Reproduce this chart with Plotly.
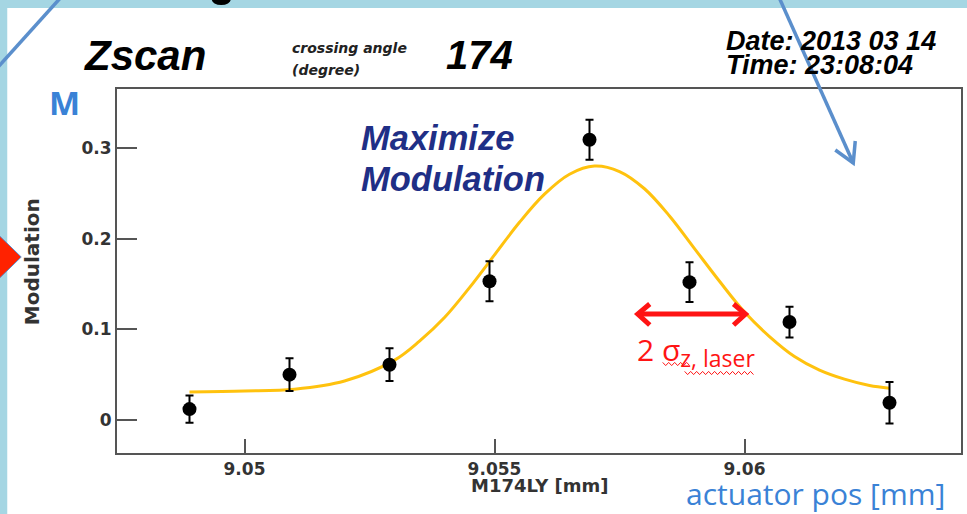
import plotly.graph_objects as go

# ---- data ----
x_pos = [9.0489, 9.0509, 9.0529, 9.0549, 9.0569, 9.0589, 9.0609, 9.0629]
modulation = [0.012, 0.050, 0.061, 0.153, 0.309, 0.152, 0.108, 0.019]
mod_err = [0.015, 0.018, 0.018, 0.022, 0.022, 0.022, 0.017, 0.023]

fit_x = [9.0489, 9.0500, 9.0510, 9.0520, 9.0530, 9.0535, 9.0540, 9.0545, 9.0550,
         9.0555, 9.0560, 9.0565, 9.0570, 9.0575, 9.0580, 9.0585, 9.0590, 9.0595,
         9.0600, 9.0605, 9.0610, 9.0615, 9.0620, 9.0625, 9.0629]
fit_y = [0.031, 0.032, 0.034, 0.043, 0.066, 0.087, 0.113, 0.146, 0.182,
         0.218, 0.249, 0.271, 0.280, 0.274, 0.255, 0.225, 0.189, 0.153,
         0.119, 0.092, 0.070, 0.055, 0.045, 0.038, 0.035]

x_ticks = [9.05, 9.055, 9.06]
x_tick_text = ["9.05", "9.055", "9.06"]
y_ticks = [0, 0.1, 0.2, 0.3]
y_tick_text = ["0", "0.1", "0.2", "0.3"]

# ---- geometry helpers (pixel -> paper) ----
L, R, T, B = 117, 963, 89, 453
W, H = 967, 514


def X(px):
    return (px - L) / (R - L)


def Y(py):
    return (B - py) / (B - T)


BG = "#a5d6e3"
BLUE_TXT = "#3a82d6"
ARROW_BLUE = "#5b8fcc"
RED = "#ff1414"

fig = go.Figure()

fig.add_trace(go.Scatter(
    x=fit_x, y=fit_y, mode="lines", line=dict(color="#ffc20e", width=3, shape="spline"),
    hoverinfo="skip", showlegend=False))

fig.add_trace(go.Scatter(
    x=x_pos, y=modulation, mode="markers",
    marker=dict(color="black", size=14),
    error_y=dict(type="data", array=mod_err, color="black", thickness=2, width=4),
    showlegend=False))

shapes = []
# white slide panel
shapes.append(dict(type="rect", xref="paper", yref="paper", x0=X(7), x1=X(980),
                   y0=Y(530), y1=Y(8), fillcolor="white", line=dict(width=0), layer="below"))
# blue pointer lines
shapes.append(dict(type="line", xref="paper", yref="paper", x0=X(62), y0=Y(-4), x1=X(-5), y1=Y(70),
                   line=dict(color=ARROW_BLUE, width=3.5)))
shapes.append(dict(type="line", xref="paper", yref="paper", x0=X(780), y0=Y(-4), x1=X(855), y1=Y(163),
                   line=dict(color=ARROW_BLUE, width=3.5)))
shapes.append(dict(type="path", xref="paper", yref="paper",
                   path=f"M {X(837)},{Y(150)} L {X(855)},{Y(163)} L {X(857)},{Y(141)}",
                   line=dict(color=ARROW_BLUE, width=3.5)))
# red triangle at left
shapes.append(dict(type="path", xref="paper", yref="paper",
                   path=f"M {X(-15)},{Y(222)} L {X(21)},{Y(257)} L {X(-15)},{Y(292)} Z",
                   fillcolor="#ff2200", line=dict(color=ARROW_BLUE, width=1)))
# clipped glyph at the top
shapes.append(dict(type="circle", xref="paper", yref="paper", x0=X(212), x1=X(231),
                   y0=Y(5), y1=Y(-6), fillcolor="black", line=dict(width=0)))
# red double arrow
shapes.append(dict(type="line", xref="paper", yref="paper", x0=X(641), y0=Y(314), x1=X(744), y1=Y(314),
                   line=dict(color=RED, width=5)))
shapes.append(dict(type="path", xref="paper", yref="paper",
                   path=f"M {X(651)},{Y(304)} L {X(639)},{Y(314)} L {X(651)},{Y(325)}",
                   line=dict(color=RED, width=5)))
shapes.append(dict(type="path", xref="paper", yref="paper",
                   path=f"M {X(735)},{Y(304)} L {X(747)},{Y(314)} L {X(735)},{Y(325)}",
                   line=dict(color=RED, width=5)))


def squiggle(x0, x1, y, amp=1.6, step=3.0):
    pts = []
    px = x0
    k = 0
    while px <= x1:
        pts.append((px, y + (amp if k % 2 else -amp)))
        px += step
        k += 1
    d = "M " + " L ".join(f"{X(a)},{Y(b)}" for a, b in pts)
    return dict(type="path", xref="paper", yref="paper", path=d, line=dict(color=RED, width=1))


shapes.append(squiggle(664, 692, 364))
shapes.append(squiggle(686, 756, 373))

ann = []


def txt(text, px, py, size, family="Liberation Sans", color="black", weight="normal",
        style="normal", xanchor="left", yanchor="middle", angle=0):
    ann.append(dict(text=text, x=X(px), y=Y(py), xref="paper", yref="paper", showarrow=False,
                    xanchor=xanchor, yanchor=yanchor, textangle=angle,
                    font=dict(family=family, size=size, color=color, weight=weight, style=style)))


txt("Zscan", 82, 55, 42, weight="bold", style="italic")
txt("crossing angle", 290, 48, 14, family="DejaVu Sans", weight="bold", style="italic", color="#222")
txt("(degree)", 290, 70, 14, family="DejaVu Sans", weight="bold", style="italic", color="#222")
txt("174", 445, 55, 40, weight="bold", style="italic")
txt("Date: 2013 03 14", 725, 41, 27, weight="bold", style="italic")
txt("Time: 23:08:04", 725, 65, 27, weight="bold", style="italic")
txt("M", 47, 103, 33, family="Open Sans", weight="bold", color=BLUE_TXT)
txt("Maximize", 360, 138, 34.5, weight="bold", style="italic", color="#1f2f86")
txt("Modulation", 360, 179, 34.5, weight="bold", style="italic", color="#1f2f86")
txt("Modulation", 32, 262, 20, family="DejaVu Sans", weight="bold", color="#333",
    xanchor="center", angle=-90)
txt("M174LY [mm]", 540, 486, 18, family="DejaVu Sans", weight="bold", color="#333", xanchor="center")
txt("actuator pos [mm]", 685, 493, 30, family="Open Sans", color=BLUE_TXT)
txt("2 σ<sub><span style='font-size:23px'>z, laser</span></sub>", 636, 351, 30,
    family="Open Sans", color=RED)

fig.update_layout(
    width=W, height=H, autosize=False,
    margin=dict(l=L, r=W - R, t=T, b=H - B, pad=0),
    paper_bgcolor=BG, plot_bgcolor="white",
    shapes=shapes, annotations=ann, showlegend=False,
    xaxis=dict(range=[9.04745, 9.06433], tickvals=x_ticks, ticktext=x_tick_text,
               ticks="inside", ticklen=14, tickwidth=2, tickcolor="#555",
               showline=True, mirror=True, linecolor="#555", linewidth=2,
               showgrid=False, zeroline=False,
               tickfont=dict(family="DejaVu Sans", size=17, color="#333", weight="bold")),
    yaxis=dict(range=[-0.0364, 0.365], tickvals=y_ticks, ticktext=y_tick_text,
               ticks="inside", ticklen=20, tickwidth=2, tickcolor="#555",
               showline=True, mirror=True, linecolor="#555", linewidth=2,
               showgrid=False, zeroline=False,
               tickfont=dict(family="DejaVu Sans", size=17, color="#333", weight="bold")),
)

fig.write_html("out.html", config={"displayModeBar": False},
               post_script="document.body.style.margin='0';document.body.style.overflow='hidden';")
